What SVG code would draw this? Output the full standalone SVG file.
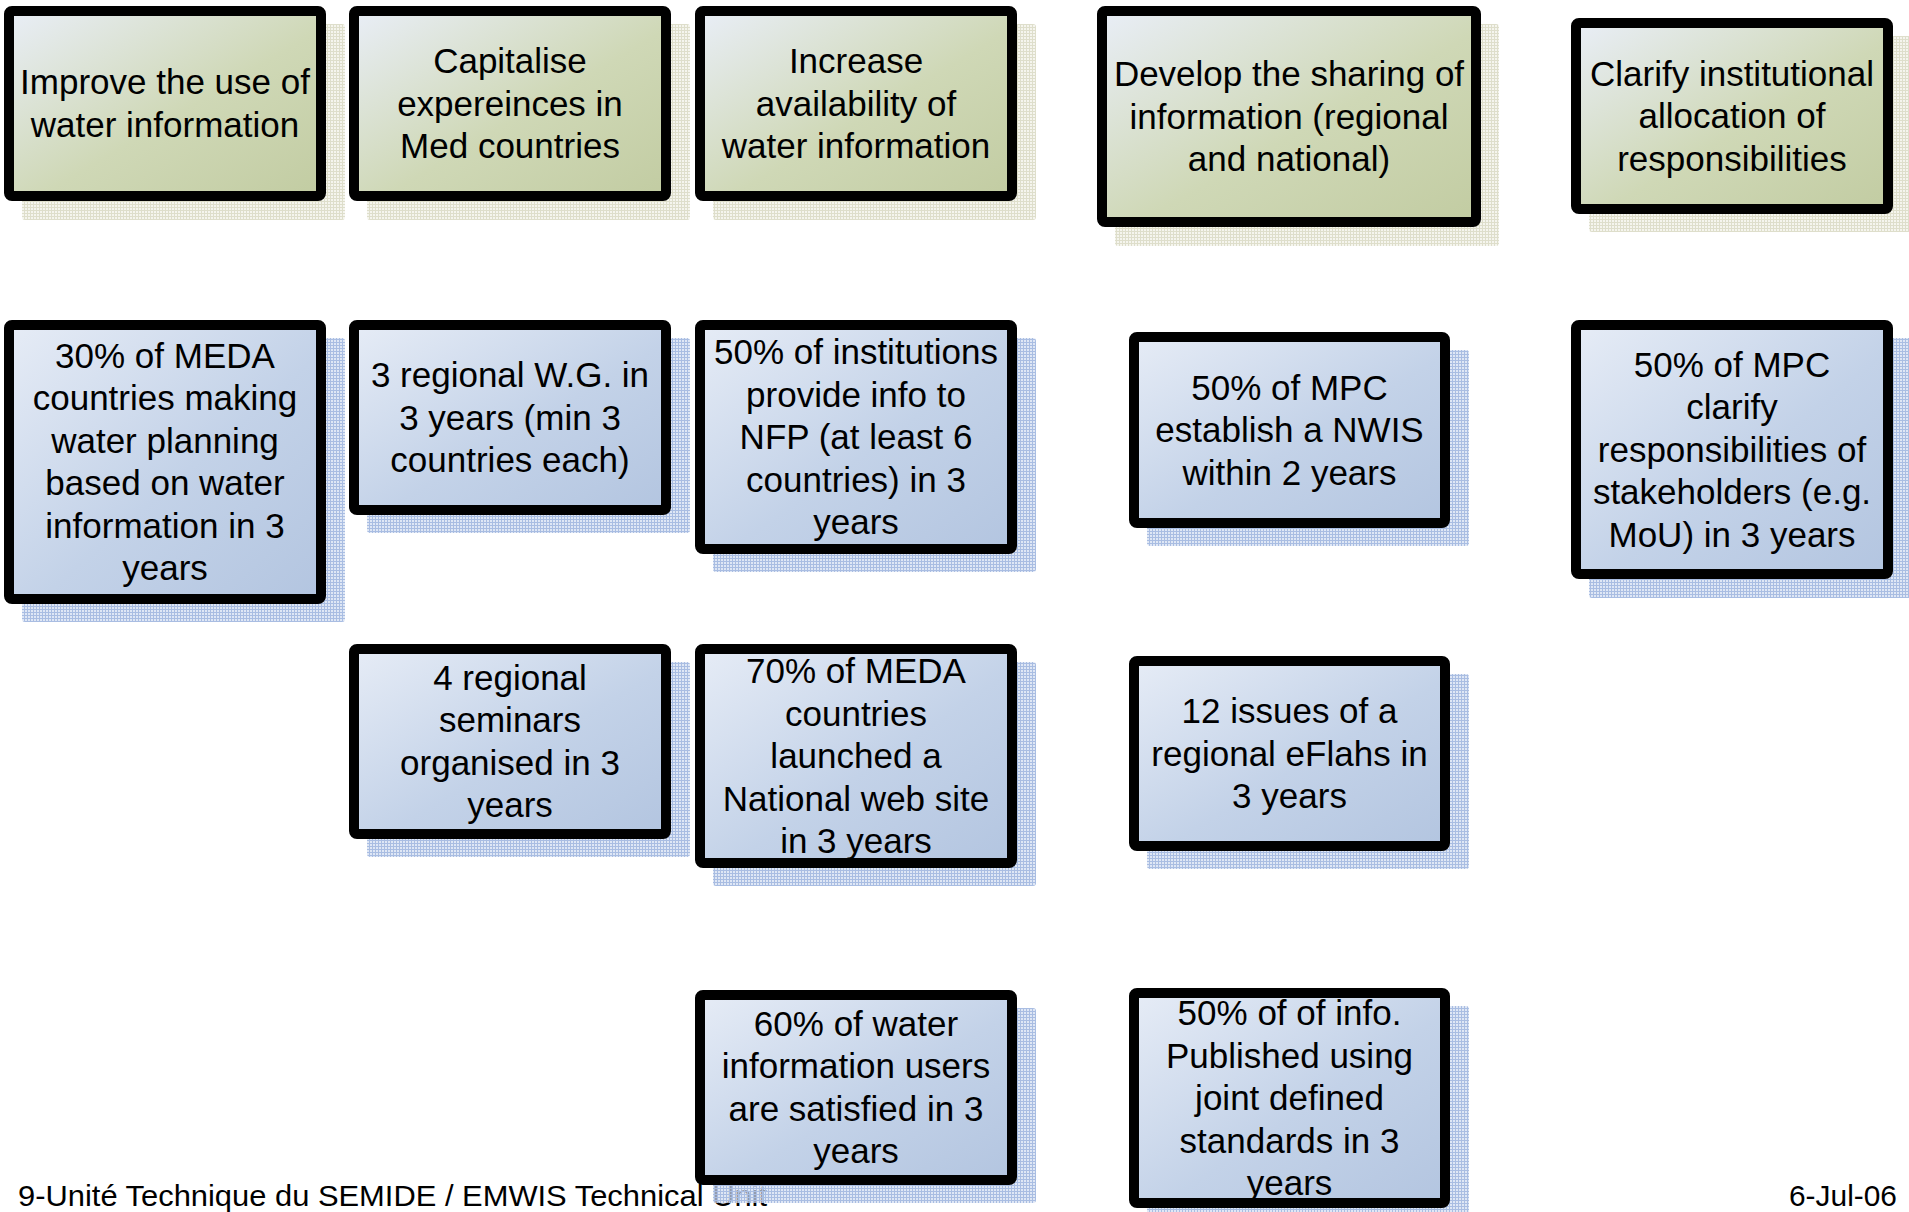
<svg xmlns="http://www.w3.org/2000/svg" width="1909" height="1212" viewBox="0 0 1909 1212">
<defs>
<linearGradient id="gGreen" x1="0" y1="0" x2="1" y2="1">
<stop offset="0" stop-color="#e9eef7"/>
<stop offset="0.55" stop-color="#cfd8b6"/>
<stop offset="1" stop-color="#c2cca2"/>
</linearGradient>
<linearGradient id="gBlue" x1="0" y1="0" x2="1" y2="1">
<stop offset="0" stop-color="#e6ecf6"/>
<stop offset="0.55" stop-color="#c3d2e8"/>
<stop offset="1" stop-color="#b3c5e0"/>
</linearGradient>
<pattern id="pGreen" width="3" height="3" patternUnits="userSpaceOnUse">
<rect width="3" height="3" fill="#f5f5ee"/>
<path d="M0 0.5H3M0.5 0V3" stroke="#dedecb" stroke-width="1"/>
</pattern>
<pattern id="pBlue" width="3" height="3" patternUnits="userSpaceOnUse">
<rect width="3" height="3" fill="#d2ddf1" fill-opacity="0.7"/>
<path d="M0 0.5H3M0.5 0V3" stroke="#a9bde2" stroke-width="1"/>
</pattern>
</defs>
<style>
.box{stroke:#000;stroke-width:10;}
.green{fill:url(#gGreen);}
.blue{fill:url(#gBlue);}
.shg{fill:url(#pGreen);}
.shb{fill:url(#pBlue);}
.t{font-family:"Liberation Sans",Arial,sans-serif;font-size:35px;fill:#000;text-anchor:middle;}
.f{font-family:"Liberation Sans",Arial,sans-serif;font-size:30px;fill:#000;}
</style>
<g id="footer">
<text class="f" x="18" y="1206" textLength="749" lengthAdjust="spacingAndGlyphs">9-Unité Technique du SEMIDE / EMWIS Technical Unit</text>
<text class="f" x="1789" y="1206" textLength="108" lengthAdjust="spacingAndGlyphs">6-Jul-06</text>
</g>
<g id="connectors"></g>

<g id="goal1">
<rect class="shg" x="22" y="24" width="323" height="196" rx="3"/>
<rect class="box green" x="9" y="11" width="312" height="185" rx="3"/>
<text class="t"><tspan x="165" y="94">Improve the use of</tspan><tspan x="165" y="136.5">water information</tspan></text>
</g>
<g id="goal2">
<rect class="shg" x="367" y="24" width="323" height="196" rx="3"/>
<rect class="box green" x="354" y="11" width="312" height="185" rx="3"/>
<text class="t"><tspan x="510" y="73">Capitalise</tspan><tspan x="510" y="115.5">expereinces in</tspan><tspan x="510" y="158">Med countries</tspan></text>
</g>
<g id="goal3">
<rect class="shg" x="713" y="24" width="323" height="196" rx="3"/>
<rect class="box green" x="700" y="11" width="312" height="185" rx="3"/>
<text class="t"><tspan x="856" y="73">Increase</tspan><tspan x="856" y="115.5">availability of</tspan><tspan x="856" y="158">water information</tspan></text>
</g>
<g id="goal4">
<rect class="shg" x="1115" y="24" width="384" height="222" rx="3"/>
<rect class="box green" x="1102" y="11" width="374" height="211" rx="3"/>
<text class="t"><tspan x="1289" y="86">Develop the sharing of</tspan><tspan x="1289" y="128.5">information (regional</tspan><tspan x="1289" y="171">and national)</tspan></text>
</g>
<g id="goal5">
<rect class="shg" x="1589" y="36" width="323" height="196" rx="3"/>
<rect class="box green" x="1576" y="23" width="312" height="186" rx="3"/>
<text class="t"><tspan x="1732" y="85.5">Clarify institutional</tspan><tspan x="1732" y="128">allocation of</tspan><tspan x="1732" y="170.5">responsibilities</tspan></text>
</g>

<g id="ind1">
<rect class="shb" x="22" y="338" width="323" height="284" rx="3"/>
<rect class="box blue" x="9" y="325" width="312" height="274" rx="3"/>
<text class="t"><tspan x="165" y="367.75">30% of MEDA</tspan><tspan x="165" y="410.25">countries making</tspan><tspan x="165" y="452.75">water planning</tspan><tspan x="165" y="495.25">based on water</tspan><tspan x="165" y="537.75">information in 3</tspan><tspan x="165" y="580.25">years</tspan></text>
</g>
<g id="ind2">
<rect class="shb" x="367" y="338" width="323" height="195" rx="3"/>
<rect class="box blue" x="354" y="325" width="312" height="185" rx="3"/>
<text class="t"><tspan x="510" y="387">3 regional W.G. in</tspan><tspan x="510" y="429.5">3 years (min 3</tspan><tspan x="510" y="472">countries each)</tspan></text>
</g>
<g id="ind3">
<rect class="shb" x="713" y="338" width="323" height="234" rx="3"/>
<rect class="box blue" x="700" y="325" width="312" height="224" rx="3"/>
<text class="t"><tspan x="856" y="364">50% of institutions</tspan><tspan x="856" y="406.5">provide info to</tspan><tspan x="856" y="449">NFP (at least 6</tspan><tspan x="856" y="491.5">countries) in 3</tspan><tspan x="856" y="534">years</tspan></text>
</g>
<g id="ind4">
<rect class="shb" x="1147" y="350" width="322" height="196" rx="3"/>
<rect class="box blue" x="1134" y="337" width="311" height="186" rx="3"/>
<text class="t"><tspan x="1289.5" y="399.5">50% of MPC</tspan><tspan x="1289.5" y="442">establish a NWIS</tspan><tspan x="1289.5" y="484.5">within 2 years</tspan></text>
</g>
<g id="ind5">
<rect class="shb" x="1589" y="338" width="323" height="260" rx="3"/>
<rect class="box blue" x="1576" y="325" width="312" height="249" rx="3"/>
<text class="t"><tspan x="1732" y="376.5">50% of MPC</tspan><tspan x="1732" y="419">clarify</tspan><tspan x="1732" y="461.5">responsibilities of</tspan><tspan x="1732" y="504">stakeholders (e.g.</tspan><tspan x="1732" y="546.5">MoU) in 3 years</tspan></text>
</g>

<g id="ind6">
<rect class="shb" x="367" y="662" width="323" height="195" rx="3"/>
<rect class="box blue" x="354" y="649" width="312" height="185" rx="3"/>
<text class="t"><tspan x="510" y="689.75">4 regional</tspan><tspan x="510" y="732.25">seminars</tspan><tspan x="510" y="774.75">organised in 3</tspan><tspan x="510" y="817.25">years</tspan></text>
</g>
<g id="ind7">
<rect class="shb" x="713" y="662" width="323" height="224" rx="3"/>
<rect class="box blue" x="700" y="649" width="312" height="214" rx="3"/>
<text class="t"><tspan x="856" y="683">70% of MEDA</tspan><tspan x="856" y="725.5">countries</tspan><tspan x="856" y="768">launched a</tspan><tspan x="856" y="810.5">National web site</tspan><tspan x="856" y="853">in 3 years</tspan></text>
</g>
<g id="ind8">
<rect class="shb" x="1147" y="674" width="322" height="195" rx="3"/>
<rect class="box blue" x="1134" y="661" width="311" height="185" rx="3"/>
<text class="t"><tspan x="1289.5" y="723">12 issues of a</tspan><tspan x="1289.5" y="765.5">regional eFlahs in</tspan><tspan x="1289.5" y="808">3 years</tspan></text>
</g>

<g id="ind9">
<rect class="shb" x="713" y="1008" width="323" height="195" rx="3"/>
<rect class="box blue" x="700" y="995" width="312" height="185" rx="3"/>
<text class="t"><tspan x="856" y="1035.75">60% of water</tspan><tspan x="856" y="1078.25">information users</tspan><tspan x="856" y="1120.75">are satisfied in 3</tspan><tspan x="856" y="1163.25">years</tspan></text>
</g>
<g id="ind10">
<rect class="shb" x="1147" y="1006" width="322" height="220" rx="3"/>
<rect class="box blue" x="1134" y="993" width="311" height="210" rx="3"/>
<text class="t"><tspan x="1289.5" y="1025">50% of of info.</tspan><tspan x="1289.5" y="1067.5">Published using</tspan><tspan x="1289.5" y="1110">joint defined</tspan><tspan x="1289.5" y="1152.5">standards in 3</tspan><tspan x="1289.5" y="1195">years</tspan></text>
</g>
</svg>
